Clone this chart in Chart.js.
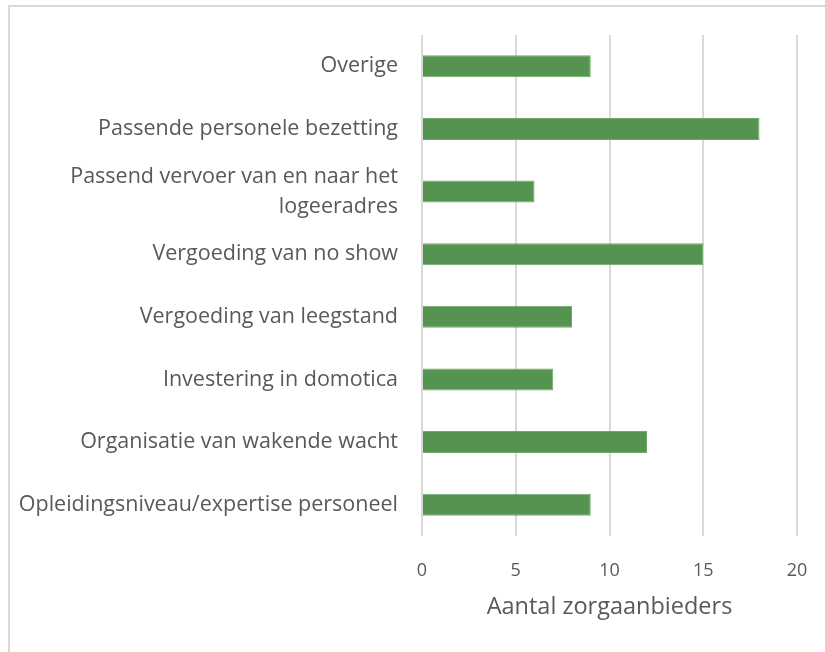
<!DOCTYPE html>
<html>
<head>
<meta charset="utf-8">
<script src="https://cdn.jsdelivr.net/npm/chart.js@4/dist/chart.umd.min.js"></script>
<style>
  html, body { margin: 0; padding: 0; background: #fff; }
  body { width: 825px; height: 652px; position: relative; overflow: hidden; }
  #frame {
    position: absolute; left: 8px; top: 5px;
    width: 900px; height: 700px;
    border-left: 2px solid #d9d9d9; border-top: 2px solid #d9d9d9;
  }
  #chart { position: absolute; left: 0; top: 0; }
</style>
</head>
<body>
<div id="frame"></div>
<canvas id="chart" width="825" height="652"></canvas>
<script>
// categories top to bottom, as in the picture
const categories = [
  "Overige",
  "Passende personele bezetting",
  ["Passend vervoer van en naar het", "logeeradres"],
  "Vergoeding van no show",
  "Vergoeding van leegstand",
  "Investering in domotica",
  "Organisatie van wakende wacht",
  "Opleidingsniveau/expertise personeel"
];
const providerCounts = [9, 18, 6, 15, 8, 7, 12, 9];
const xTicks = [0, 5, 10, 15, 20];
const xTitle = "Aantal zorgaanbieders";

const FONT = "'Open Sans', 'Segoe UI', sans-serif";
const TEXT = "#595959";
const GRID = "#d9d9d9";
const BAR = "#559350";

new Chart(document.getElementById("chart"), {
  type: "bar",
  data: {
    labels: categories,
    datasets: [{
      data: providerCounts,
      backgroundColor: BAR,
      borderColor: "#6fa86a",
      borderWidth: 1,
      barPercentage: 0.35,
      categoryPercentage: 1
    }]
  },
  options: {
    indexAxis: "y",
    responsive: false,
    animation: false,
    layout: { padding: { top: 35, right: 28, bottom: 0, left: 0 } },
    plugins: { legend: { display: false }, tooltip: { enabled: false } },
    scales: {
      x: {
        min: 0,
        max: 20,
        afterBuildTicks: (s) => { s.ticks = xTicks.map(v => ({ value: v })); },
        grid: { color: GRID, lineWidth: 2, drawTicks: false },
        border: { display: false },
        ticks: {
          color: TEXT,
          font: { family: FONT, size: 18 },
          padding: 24,
          maxRotation: 0
        },
        title: {
          display: true,
          text: xTitle,
          color: TEXT,
          font: { family: FONT, size: 23.5 },
          padding: { top: 0, bottom: 31 }
        },
        afterFit: (s) => {
          s.height = 116;
          s.paddingLeft = 0;
          s.paddingRight = 0;
        }
      },
      y: {
        grid: { display: false, drawTicks: false },
        border: { display: false },
        ticks: {
          color: TEXT,
          font: { family: FONT, size: 21.5, lineHeight: 1.4 },
          padding: 24,
          autoSkip: false
        },
        afterFit: (s) => {
          s.width = 422;
          s.paddingTop = 0;
          s.paddingBottom = 0;
        }
      }
    }
  }
});
</script>
</body>
</html>
